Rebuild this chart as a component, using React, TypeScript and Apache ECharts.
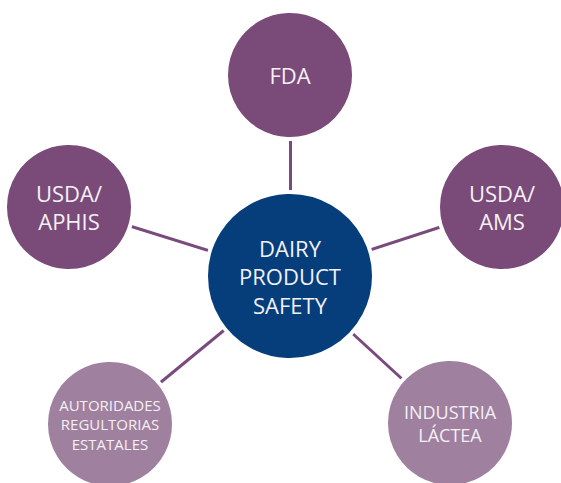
import React, { useEffect, useRef } from "react";
import * as echarts from "echarts";

// Diagram data
const nodeIds = ["hub", "fda", "ams", "industria", "autoridades", "aphis"];
const nodeLabels = [
  "DAIRY\nPRODUCT\nSAFETY",
  "FDA",
  "USDA/\nAMS",
  "INDUSTRIA\nLÁCTEA",
  "AUTORIDADES\nREGULTORIAS\nESTATALES",
  "USDA/\nAPHIS",
];
const nodeX = [290, 290, 502, 450, 110, 69];
const nodeY = [276, 75, 207, 423, 424, 207];
const nodeRadius = [82, 62, 62, 62, 62, 62];
const nodeTier = ["hub", "federal", "federal", "other", "other", "federal"];
const linkTargets = ["fda", "ams", "industria", "autoridades", "aphis"];

const tierColor: Record<string, string> = {
  hub: "#053e7b",
  federal: "#7a4a79",
  other: "#a0809f",
};
const fontSizes = [22, 22, 22, 18, 15, 22];
const lineHeights = [28.5, 28, 28.5, 23, 19.5, 28.5];

const W = 561;
const H = 483;

export default function App() {
  const ref = useRef<HTMLDivElement>(null);
  useEffect(() => {
    if (!ref.current) return;
    const chart = echarts.init(ref.current, undefined, { renderer: "svg" });
    const gap = 4;
    const data = nodeIds.map((id, i) => ({
      name: id,
      value: [nodeX[i], nodeY[i]],
      symbolSize: 2 * (nodeRadius[i] + gap / 2),
      itemStyle: {
        color: tierColor[nodeTier[i]],
        borderColor: "#ffffff",
        borderWidth: gap,
      },
      label: {
        show: true,
        position: "inside",
        formatter: nodeLabels[i],
        color: "#f4f1f4",
        fontFamily: "Open Sans",
        fontSize: fontSizes[i],
        lineHeight: lineHeights[i],
        align: "center",
        verticalAlign: "middle",
      },
    }));
    const links = linkTargets.map((t) => ({ source: "hub", target: t }));
    chart.setOption({
      animation: false,
      backgroundColor: "#ffffff",
      grid: { left: 0, right: 0, top: 0, bottom: 0 },
      xAxis: { type: "value", min: 0, max: W, show: false },
      yAxis: { type: "value", min: 0, max: H, inverse: true, show: false },
      series: [
        {
          type: "graph",
          coordinateSystem: "cartesian2d",
          layout: "none",
          symbol: "circle",
          silent: true,
          emphasis: { disabled: true },
          data,
          links,
          lineStyle: { color: "#7a4a7c", width: 3, opacity: 1, curveness: 0 },
        },
      ],
    });
    return () => chart.dispose();
  }, []);
  return (
    <div
      ref={ref}
      style={{ position: "fixed", left: 0, top: 0, width: W, height: H }}
    />
  );
}
